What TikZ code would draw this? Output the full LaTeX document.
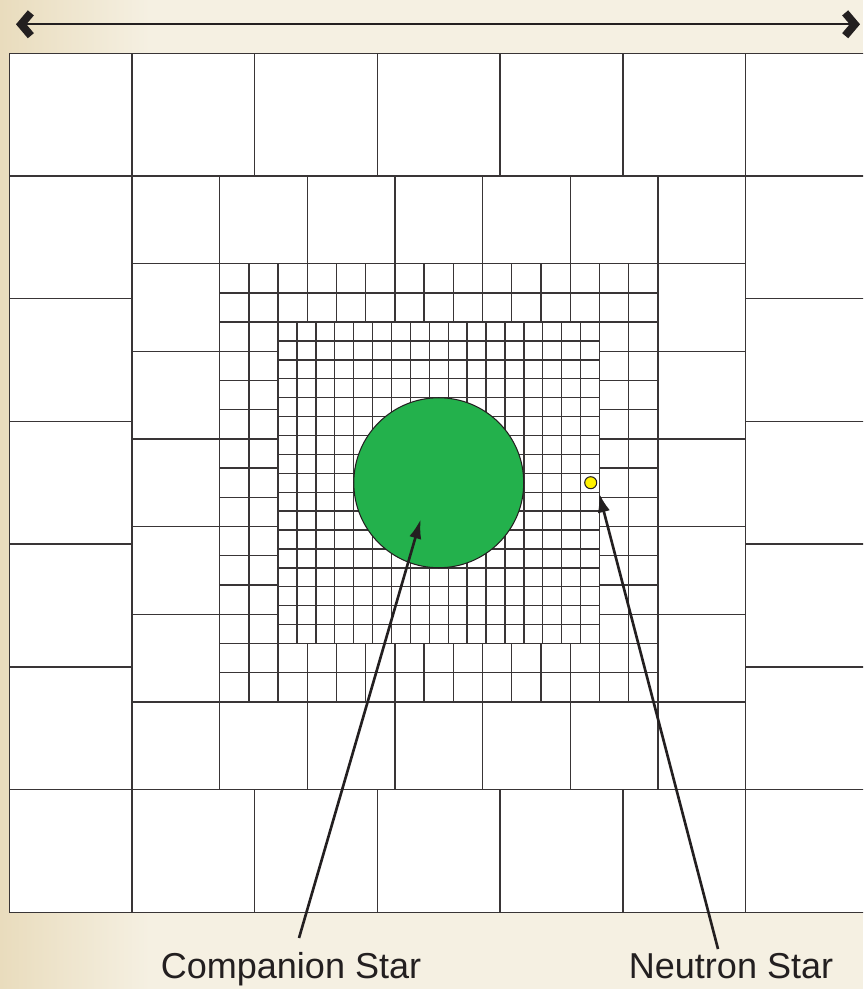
\documentclass[tikz,border=0pt]{standalone}
\usepackage{fontspec}
\setmainfont{Liberation Sans}
\usetikzlibrary{arrows.meta}

\definecolor{cream}{HTML}{F5F0E2}
\definecolor{sand}{HTML}{E9DCBD}
\definecolor{stargreen}{HTML}{23B14C}
\definecolor{nsyellow}{HTML}{FFF200}
\definecolor{ink}{HTML}{231F20}

% one level of the mesh: half width, number of cells per side
\newcommand{\meshlevel}[2]{%
  \fill[white] (-#1,-#1) rectangle (#1,#1);
  \foreach \k in {0,...,#2}{
    \draw[meshline] ({-#1+\k*2*#1/#2},-#1) -- ++(0,2*#1);
    \draw[meshline] (-#1,{-#1+\k*2*#1/#2}) -- ++(2*#1,0);
  }}

\begin{document}
\begin{tikzpicture}[x=0.02cm, y=-0.02cm]
	% Stili
	\tikzset{meshline/.style={draw=ink!90, line width=0.8pt},
		starnode/.style={circle, draw=ink, line width=0.6pt, inner sep=0pt},
		pointer/.style={draw=ink, line width=1.5pt, -{Latex[length=11pt,width=7pt]}},
		scalebar/.style={draw=ink, line width=1.2pt,
			{Straight Barb[length=5.5pt,width=13pt,line width=4.5pt]}-{Straight Barb[length=5.5pt,width=13pt,line width=4.5pt]}},
		label/.style={font=\fontsize{20.5}{24}\selectfont, text=ink, anchor=base}}

	% Sfondo
	\clip (0,0) rectangle (863,989);
	\fill[cream] (0,0) rectangle (863,989);
	\shade[left color=sand, right color=cream] (0,0) rectangle (150,989);

	% Griglia a livelli
	\begin{scope}[shift={(438.75,482.75)}]
		\meshlevel{429.45}{7}
		\meshlevel{306.75}{7}
		\meshlevel{219.1}{15}
		\meshlevel{160.7}{17}
	\end{scope}

	% Stelle
	\node[starnode, fill=stargreen, minimum size=3.4cm] (companion) at (438.75,482.75) {};
	\node[starnode, fill=nsyellow, minimum size=0.24cm] (neutron) at (590.7,482.7) {};

	% Etichette
	\node[label] (companion label) at (291,978) {Companion Star};
	\node[label] (neutron label) at (731,978) {Neutron Star};

	\coordinate (cs foot) at (299,938);
	\coordinate (cs tip) at (420.7,519.3);
	\coordinate (ns foot) at (718,949);
	\coordinate (ns tip) at (599,493);
	\draw[pointer] (cs foot) -- (cs tip);
	\draw[pointer] (ns foot) -- (ns tip);

	% Freccia in alto
	\coordinate (bar west) at (16,24.3);
	\coordinate (bar east) at (860,24.3);
	\draw[scalebar] (bar west) -- (bar east);
\end{tikzpicture}
\end{document}
